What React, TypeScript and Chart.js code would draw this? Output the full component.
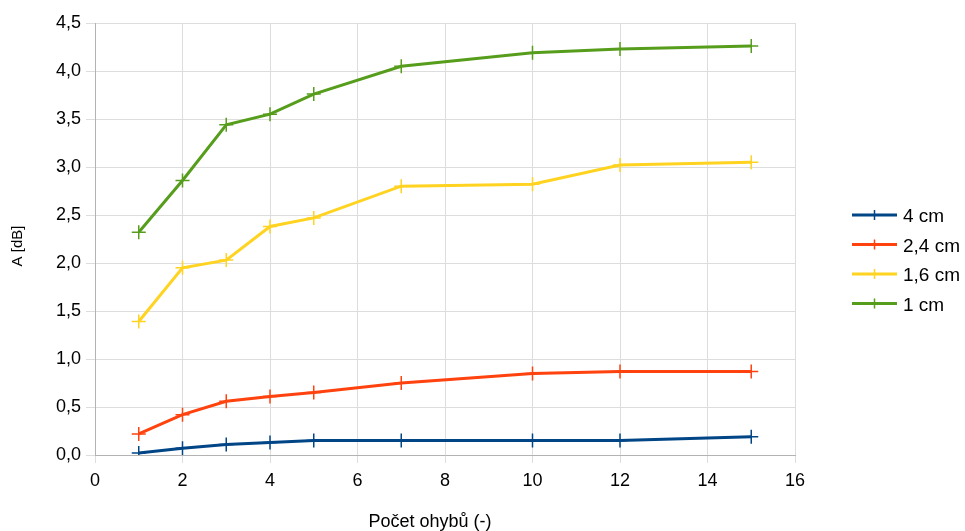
import React, { useEffect, useRef } from "react";
import { Chart, registerables } from "chart.js";

Chart.register(...registerables);

const xValues = [1, 2, 3, 4, 5, 7, 10, 12, 15];
const series4cm = [0.02, 0.07, 0.11, 0.13, 0.15, 0.15, 0.15, 0.15, 0.19];
const series24cm = [0.22, 0.42, 0.56, 0.61, 0.65, 0.75, 0.85, 0.87, 0.87];
const series16cm = [1.39, 1.95, 2.03, 2.38, 2.47, 2.8, 2.82, 3.02, 3.05];
const series1cm = [2.32, 2.86, 3.44, 3.55, 3.76, 4.05, 4.19, 4.23, 4.26];
const seriesLabels = ["4 cm", "2,4 cm", "1,6 cm", "1 cm"];
const seriesColors = ["#004586", "#ff420e", "#ffd320", "#579d1c"];
const xTitle = "Počet ohybů (-)";
const yTitle = "A [dB]";

const FONT = "'Liberation Sans', Arial, sans-serif";

const legendPlugin = {
  id: "customLegend",
  afterDraw(chart: any) {
    const ctx = chart.ctx;
    const ds = chart.data.datasets;
    const x0 = 852;
    const x1 = 897;
    const startY = 215;
    const step = 29.5;
    ctx.save();
    ctx.font = `19px ${FONT}`;
    ctx.textBaseline = "middle";
    ctx.textAlign = "left";
    ds.forEach((d: any, i: number) => {
      const y = startY + i * step;
      ctx.strokeStyle = d.borderColor;
      ctx.lineWidth = 3;
      ctx.beginPath();
      ctx.moveTo(x0, y);
      ctx.lineTo(x1, y);
      ctx.stroke();
      ctx.lineWidth = 1.5;
      ctx.beginPath();
      const cx = (x0 + x1) / 2;
      ctx.moveTo(cx, y - 5);
      ctx.lineTo(cx, y + 5);
      ctx.stroke();
      ctx.fillStyle = "#000";
      ctx.fillText(d.label, 903, y + 2);
    });
    // axis titles
    ctx.fillStyle = "#000";
    ctx.textAlign = "center";
    ctx.textBaseline = "middle";
    ctx.font = `18px ${FONT}`;
    ctx.fillText(xTitle, 430, 522);
    ctx.translate(18, 246);
    ctx.rotate(-Math.PI / 2);
    ctx.font = `15px ${FONT}`;
    ctx.fillText(yTitle, 0, 0);
    ctx.restore();
  },
};

export default function App() {
  const ref = useRef<HTMLCanvasElement | null>(null);

  useEffect(() => {
    if (!ref.current) return;
    const allSeries = [series4cm, series24cm, series16cm, series1cm];
    const chart = new Chart(ref.current, {
      type: "line",
      data: {
        datasets: allSeries.map((s, i) => ({
          label: seriesLabels[i],
          data: s.map((v, j) => ({ x: xValues[j], y: v })),
          borderColor: seriesColors[i],
          backgroundColor: seriesColors[i],
          borderWidth: 3,
          pointStyle: "cross",
          pointRadius: 7,
          pointBorderWidth: 1.5,
          pointBorderColor: seriesColors[i],
          tension: 0,
          fill: false,
        })),
      },
      options: {
        animation: false,
        responsive: true,
        maintainAspectRatio: false,
        layout: { padding: { top: 23, right: 170, left: 0, bottom: 0 } },
        plugins: {
          legend: { display: false },
          tooltip: { enabled: false },
        },
        scales: {
          x: {
            type: "linear",
            min: 0,
            max: 16,
            ticks: {
              stepSize: 2,
              color: "#000",
              font: { family: FONT, size: 18 },
              padding: 7,
            },
            grid: { color: "#dddddd", tickLength: 8, tickColor: "#dddddd" },
            border: { color: "#b3b3b3" },
            afterFit: (scale: any) => {
              scale.height = 76;
            },
          },
          y: {
            type: "linear",
            min: 0,
            max: 4.5,
            ticks: {
              stepSize: 0.5,
              color: "#000",
              font: { family: FONT, size: 18 },
              padding: 5,
              callback: (v: any) => Number(v).toFixed(1).replace(".", ","),
            },
            grid: { color: "#dddddd", tickLength: 9, tickColor: "#dddddd" },
            border: { color: "#b3b3b3" },
            afterFit: (scale: any) => {
              scale.width = 95;
            },
          },
        },
      },
      plugins: [legendPlugin],
    });
    return () => chart.destroy();
  }, []);

  return (
    <div style={{ position: "absolute", left: 0, top: 0, width: 965, height: 531 }}>
      <canvas ref={ref} />
    </div>
  );
}
